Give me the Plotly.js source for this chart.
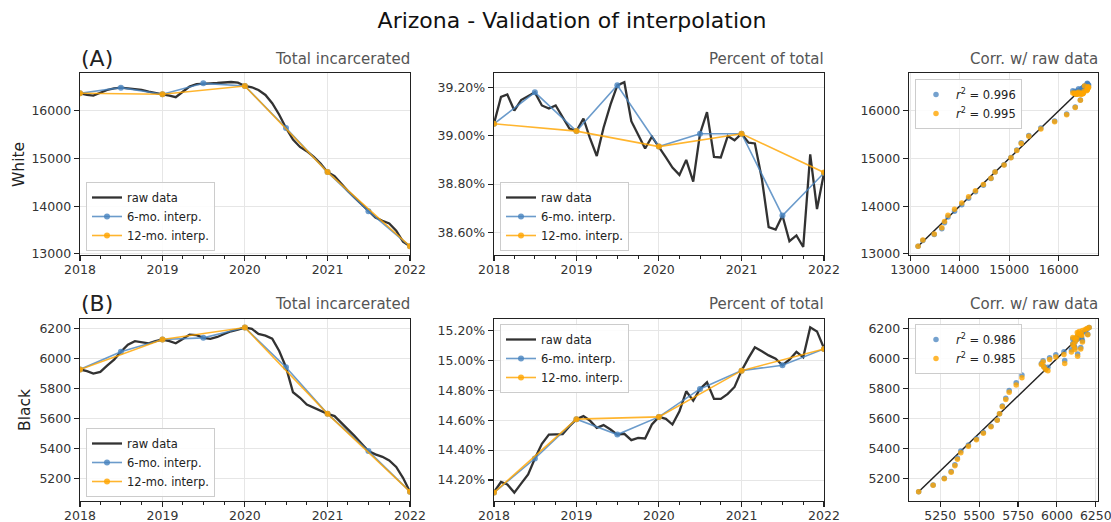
<!DOCTYPE html>
<html>
<head>
<meta charset="utf-8">
<script src="https://cdn.plot.ly/plotly-3.0.1.min.js"></script>
<style>html,body{margin:0;padding:0;background:#fff;}#chart{width:1111px;height:522px;}</style>
</head>
<body>
<div id="chart"></div>
<script>
// ---------------- DATA ----------------
const months = [
  '2018-01','2018-02','2018-03','2018-04','2018-05','2018-06','2018-07','2018-08','2018-09','2018-10','2018-11','2018-12',
  '2019-01','2019-02','2019-03','2019-04','2019-05','2019-06','2019-07','2019-08','2019-09','2019-10','2019-11','2019-12',
  '2020-01','2020-02','2020-03','2020-04','2020-05','2020-06','2020-07','2020-08','2020-09','2020-10','2020-11','2020-12',
  '2021-01','2021-02','2021-03','2021-04','2021-05','2021-06','2021-07','2021-08','2021-09','2021-10','2021-11','2021-12',
  '2022-01'
];
const anchors6 = ['2018-01','2018-07','2019-01','2019-07','2020-01','2020-07','2021-01','2021-07','2022-01'];
const anchors12 = ['2018-01','2019-01','2020-01','2021-01','2022-01'];

// White - total incarcerated
const whiteRaw = [16368,16333,16320,16380,16437,16470,16486,16470,16458,16437,16400,16368,
  16347,16320,16285,16400,16507,16562,16576,16576,16583,16590,16604,16590,
  16521,16493,16437,16333,16160,15917,15639,15396,15243,15153,15035,14896,
  14715,14632,14479,14319,14180,14042,13896,13764,13694,13639,13486,13257,
  13160];
const white6 = [16368,16486,16347,16576,16521,15639,14715,13896,13160];
const white12 = [16368,16347,16521,14715,13160];

// White - percent of total
const whitePctRaw = [39.050,39.160,39.170,39.104,39.147,39.163,39.179,39.125,39.112,39.125,39.078,39.029,
  39.019,39.071,38.992,38.916,39.033,39.129,39.208,39.221,39.060,39.005,38.947,38.996,
  38.955,38.910,38.868,38.838,38.900,38.810,39.008,39.097,38.912,38.910,38.999,38.981,
  39.008,38.971,38.968,38.821,38.622,38.612,38.670,38.564,38.588,38.540,38.923,38.697,
  38.846];
const whitePct6 = [39.049,39.179,39.019,39.208,38.955,39.008,39.008,38.670,38.846];
const whitePct12 = [39.049,39.019,38.955,39.008,38.848];

// Black - total incarcerated
const blackRaw = [5927,5916,5900,5911,5953,5993,6045,6093,6116,6111,6102,6116,
  6127,6116,6102,6131,6160,6156,6138,6131,6144,6164,6182,6193,
  6207,6198,6164,6153,6133,6050,5942,5775,5738,5693,5671,5649,
  5631,5616,5576,5527,5482,5431,5382,5360,5344,5320,5276,5204,
  5111];
const black6 = [5927,6045,6127,6138,6207,5942,5631,5382,5111];
const black12 = [5927,6127,6207,5631,5111];

// Black - percent of total
const blackPctRaw = [14.120,14.187,14.171,14.116,14.176,14.238,14.344,14.442,14.504,14.507,14.507,14.560,
  14.607,14.627,14.598,14.549,14.567,14.538,14.504,14.509,14.467,14.482,14.478,14.571,
  14.622,14.609,14.571,14.660,14.793,14.731,14.809,14.853,14.742,14.742,14.776,14.822,
  14.931,15.016,15.087,15.060,15.033,15.011,14.967,15.004,15.056,15.020,15.220,15.193,
  15.080];
const blackPct6 = [14.116,14.344,14.607,14.504,14.622,14.809,14.931,14.967,15.076];
const blackPct12 = [14.116,14.607,14.622,14.931,15.076];

const r2Labels = {white: ['0.996','0.995'], black: ['0.986','0.985']};

// ---------------- HELPERS ----------------
const C_RAW = 'rgba(28,28,28,0.9)';
const C_6 = 'rgba(70,130,190,0.8)';
const C_12 = 'rgba(255,165,0,0.82)';

function interpSeries(anchorDates, anchorVals) {
  const idx = anchorDates.map(d => months.indexOf(d));
  return months.map((m, i) => {
    for (let k = 0; k < idx.length - 1; k++) {
      if (i >= idx[k] && i <= idx[k + 1]) {
        const t = (i - idx[k]) / (idx[k + 1] - idx[k]);
        return anchorVals[k] + t * (anchorVals[k + 1] - anchorVals[k]);
      }
    }
    return anchorVals[anchorVals.length - 1];
  });
}

const traces = [];
function tsPanel(n, raw, s6, s12, leg) {
  const xa = n === 1 ? 'x' : 'x' + n, ya = n === 1 ? 'y' : 'y' + n;
  traces.push({x: months, y: raw, xaxis: xa, yaxis: ya, type: 'scatter', mode: 'lines', name: 'raw data',
    line: {color: C_RAW, width: 2.3}, legend: leg});
  traces.push({x: anchors6, y: s6, xaxis: xa, yaxis: ya, type: 'scatter', mode: 'lines+markers', name: '6-mo. interp.',
    line: {color: C_6, width: 1.6}, marker: {color: C_6, size: 6}, legend: leg});
  traces.push({x: anchors12, y: s12, xaxis: xa, yaxis: ya, type: 'scatter', mode: 'lines+markers', name: '12-mo. interp.',
    line: {color: C_12, width: 1.6}, marker: {color: C_12, size: 6}, legend: leg});
}
function corrPanel(n, raw, a6, a12, labels, leg) {
  const xa = 'x' + n, ya = 'y' + n;
  const lo = Math.min(...raw), hi = Math.max(...raw);
  traces.push({x: [lo, hi], y: [lo, hi], xaxis: xa, yaxis: ya, type: 'scatter', mode: 'lines',
    line: {color: '#222', width: 1.5}, showlegend: false, hoverinfo: 'skip'});
  traces.push({x: raw, y: interpSeries(anchors6, a6), xaxis: xa, yaxis: ya, type: 'scatter', mode: 'markers',
    name: '<i>r</i><sup>2</sup> = ' + labels[0], marker: {color: 'rgba(70,130,190,0.75)', size: 5.5}, legend: leg});
  traces.push({x: raw, y: interpSeries(anchors12, a12), xaxis: xa, yaxis: ya, type: 'scatter', mode: 'markers',
    name: '<i>r</i><sup>2</sup> = ' + labels[1], marker: {color: 'rgba(255,165,0,0.8)', size: 5.5}, legend: leg});
}

tsPanel(1, whiteRaw, white6, white12, 'legend');
tsPanel(2, whitePctRaw, whitePct6, whitePct12, 'legend2');
corrPanel(3, whiteRaw, white6, white12, r2Labels.white, 'legend3');
tsPanel(4, blackRaw, black6, black12, 'legend4');
tsPanel(5, blackPctRaw, blackPct6, blackPct12, 'legend5');
corrPanel(6, blackRaw, black6, black12, r2Labels.black, 'legend6');

// ---------------- LAYOUT ----------------
const W = 1111, H = 522;
const px = v => v / W, py = v => 1 - v / H;
const cols = [[80, 410], [494, 824], [909, 1098]];
const rows = [[73, 255], [319, 501]];

const baseAxis = {
  showline: true, mirror: true, linecolor: '#222', linewidth: 1.3,
  ticks: 'outside', ticklen: 5, tickwidth: 1.1, tickcolor: '#222',
  showgrid: true, gridcolor: '#e6e6e6', gridwidth: 1, zeroline: false,
  ticklabeloverflow: 'allow',
  tickfont: {size: 12.5, color: '#333'}
};
function timeX(n, col) {
  return Object.assign({}, baseAxis, {
    domain: [px(cols[col][0]), px(cols[col][1])], anchor: n === 1 ? 'y' : 'y' + n,
    type: 'date', range: ['2018-01-01', '2022-01-01'], tick0: '2018-01-01', dtick: 'M12', tickformat: '%Y',
    ticklabelstandoff: -2,
    minor: {dtick: 'M3', ticks: 'outside', ticklen: 3, tickcolor: '#222', tickwidth: 1, showgrid: false}
  });
}
function numAxis(domainPx, isY, anchor, range, dtick, fmt, suffix) {
  const a = Object.assign({}, baseAxis, {
    domain: isY ? [py(domainPx[1]), py(domainPx[0])] : [px(domainPx[0]), px(domainPx[1])],
    anchor: anchor, range: range, dtick: dtick, tickformat: fmt, ticksuffix: suffix || ''
  });
  if (!isY) a.ticklabelstandoff = -2;
  return a;
}

const legendBase = {bgcolor: 'rgba(255,255,255,0.85)', bordercolor: '#cccccc', borderwidth: 1,
  font: {size: 11.5, color: '#222'}, tracegroupgap: 0, itemwidth: 30, xanchor: 'left'};

const ann = [];
function sub(text, x, y, anchor, size, color) {
  ann.push({text: text, xref: 'paper', yref: 'paper', x: px(x), y: py(y), xanchor: anchor, yanchor: 'middle',
    showarrow: false, font: {size: size, color: color}});
}
sub('(A)', 79, 58, 'left', 22, '#222');
sub('(B)', 79, 303, 'left', 22, '#222');
sub('Total incarcerated', 412, 59, 'right', 15, '#555');
sub('Percent of total', 826, 59, 'right', 15, '#555');
sub('Corr. w/ raw data', 1100, 59, 'right', 15, '#555');
sub('Total incarcerated', 412, 304, 'right', 15, '#555');
sub('Percent of total', 826, 304, 'right', 15, '#555');
sub('Corr. w/ raw data', 1100, 304, 'right', 15, '#555');
ann.push({text: 'White', xref: 'paper', yref: 'paper', x: px(19), y: py(165), textangle: -90,
  xanchor: 'center', yanchor: 'middle', showarrow: false, font: {size: 15.5, color: '#222'}});
ann.push({text: 'Black', xref: 'paper', yref: 'paper', x: px(25), y: py(410), textangle: -90,
  xanchor: 'center', yanchor: 'middle', showarrow: false, font: {size: 15.5, color: '#222'}});

const layout = {
  width: W, height: H,
  margin: {l: 0, r: 0, t: 0, b: 0},
  paper_bgcolor: '#fff', plot_bgcolor: '#fff',
  font: {family: 'DejaVu Sans, sans-serif', color: '#222'},
  title: {text: 'Arizona - Validation of interpolation', x: 572 / W, xanchor: 'center', y: 1 - 20 / H, yanchor: 'middle',
    font: {size: 22, color: '#111'}},
  showlegend: true,
  xaxis: timeX(1, 0),
  yaxis: numAxis(rows[0], true, 'x', [12977, 16793], 1000, 'd'),
  xaxis2: timeX(2, 1),
  yaxis2: numAxis(rows[0], true, 'x2', [38.507, 39.259], 0.2, '.2f', '%'),
  xaxis3: numAxis(cols[2], false, 'y3', [12977, 16793], 1000, 'd'),
  yaxis3: numAxis(rows[0], true, 'x3', [12977, 16793], 1000, 'd'),
  xaxis4: timeX(4, 0),
  yaxis4: numAxis(rows[1], true, 'x4', [5049, 6264], 200, 'd'),
  xaxis5: timeX(5, 1),
  yaxis5: numAxis(rows[1], true, 'x5', [14.060, 15.276], 0.2, '.2f', '%'),
  xaxis6: numAxis(cols[2], false, 'y6', [5049, 6264], 250, 'd'),
  yaxis6: numAxis(rows[1], true, 'x6', [5049, 6264], 200, 'd'),
  legend: Object.assign({}, legendBase, {x: px(86), y: py(251), yanchor: 'bottom'}),
  legend2: Object.assign({}, legendBase, {x: px(500), y: py(251), yanchor: 'bottom'}),
  legend3: Object.assign({}, legendBase, {x: px(915), y: py(79), yanchor: 'top'}),
  legend4: Object.assign({}, legendBase, {x: px(86), y: py(497), yanchor: 'bottom'}),
  legend5: Object.assign({}, legendBase, {x: px(500), y: py(324), yanchor: 'top'}),
  legend6: Object.assign({}, legendBase, {x: px(915), y: py(324), yanchor: 'top'}),
  annotations: ann
};

Plotly.newPlot('chart', traces, layout, {displayModeBar: false, staticPlot: true});
</script>
</body>
</html>
